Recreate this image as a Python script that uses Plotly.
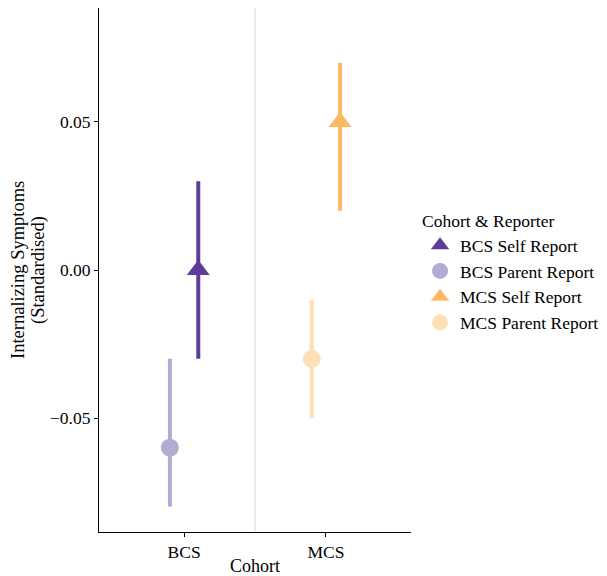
import plotly.graph_objects as go

cohorts = ["BCS", "MCS"]
series_names = ["BCS Self Report", "BCS Parent Report", "MCS Self Report", "MCS Parent Report"]
series_cohort = ["BCS", "BCS", "MCS", "MCS"]
series_reporter = ["Self", "Parent", "Self", "Parent"]
estimates = [0.00, -0.06, 0.05, -0.03]
ci_low = [-0.03, -0.08, 0.02, -0.05]
ci_high = [0.03, -0.03, 0.07, -0.01]
colors = ["#5E3C99", "#B2ABD2", "#FDB863", "#FEE0B6"]
symbols = ["triangle-up", "circle", "triangle-up", "circle"]
sizes = [20, 18, 20, 18]
ytick_vals = [-0.05, 0.00, 0.05]
ytitle_lines = ["Internalizing Symptoms", "(Standardised)"]

FONT = "Liberation Serif"

fig = go.Figure()
# add Parent traces first so they are dodged to the left; legend order kept by legendrank
draw_order = [1, 0, 3, 2]
for i in draw_order:
    fig.add_trace(go.Scatter(
        x=[series_cohort[i]],
        y=[estimates[i]],
        name=series_names[i],
        mode="markers",
        offsetgroup=series_reporter[i],
        legendrank=i + 1,
        marker=dict(color=colors[i], symbol=symbols[i], size=sizes[i], line=dict(width=0)),
        error_y=dict(
            type="data", symmetric=False,
            array=[ci_high[i] - estimates[i]],
            arrayminus=[estimates[i] - ci_low[i]],
            color=colors[i], thickness=4, width=0,
        ),
    ))

fig.add_shape(type="line", xref="x", yref="paper", x0=0.5, x1=0.5, y0=0, y1=1,
              line=dict(color="#E5E5E5", width=1.5), layer="below")

fig.update_layout(
    width=599, height=568,
    margin=dict(l=91, r=196, t=0, b=44),
    paper_bgcolor="white", plot_bgcolor="white",
    font=dict(family=FONT, size=17.5, color="black"),
    scattermode="group", scattergap=0.6,
    showlegend=True,
    legend=dict(
        title=dict(text="Cohort & Reporter", font=dict(family=FONT, size=17.5, color="black")),
        font=dict(family=FONT, size=17.5, color="black"),
        x=1.029, xanchor="left", y=0.625, yanchor="top",
        tracegroupgap=0, itemsizing="trace",
        bgcolor="rgba(0,0,0,0)",
    ),
    xaxis=dict(
        type="category", categoryorder="array", categoryarray=cohorts,
        range=[-0.6, 1.6],
        showline=True, linecolor="black", linewidth=1,
        ticks="outside", ticklen=4, tickcolor="black", tickwidth=1,
        showgrid=False, zeroline=False,
        tickfont=dict(family=FONT, size=17.5, color="black"),
        title=dict(text="Cohort", font=dict(family=FONT, size=18, color="black"), standoff=0),
    ),
    yaxis=dict(
        range=[-0.0885, 0.0885],
        tickvals=ytick_vals, tickformat=".2f",
        showline=True, linecolor="black", linewidth=1,
        ticks="outside", ticklen=4, tickcolor="black", tickwidth=1,
        showgrid=False, zeroline=False,
        tickfont=dict(family=FONT, size=17.5, color="black"),
    ),
    annotations=[
        dict(text=ytitle_lines[0], xref="paper", yref="paper", x=-0.2596, y=0.5,
             xanchor="center", yanchor="middle", textangle=-90, showarrow=False,
             font=dict(family=FONT, size=18.5, color="black")),
        dict(text=ytitle_lines[1], xref="paper", yref="paper", x=-0.1955, y=0.5,
             xanchor="center", yanchor="middle", textangle=-90, showarrow=False,
             font=dict(family=FONT, size=18.5, color="black")),
    ],
)

fig.write_html("out.html")
